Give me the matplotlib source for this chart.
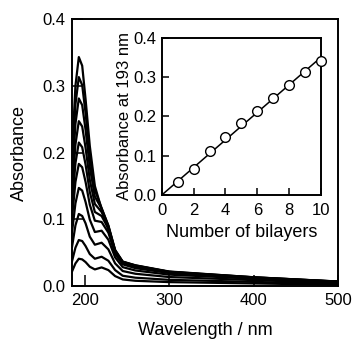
import numpy as np
import matplotlib
matplotlib.use("Agg")
import matplotlib.pyplot as plt

plt.rcParams['font.family'] = ['Liberation Sans', 'DejaVu Sans']

# Wavelengths (nm) for the spectra
wavelength = [185, 189, 193, 197, 201, 206, 212, 220, 228, 236, 245, 260, 300, 400, 500]

# Absorbance spectra for 1..10 bilayers
spec_1 = [0.022, 0.034, 0.041, 0.040, 0.036, 0.029, 0.025, 0.028, 0.024, 0.015, 0.010, 0.008, 0.006, 0.004, 0.002]
spec_2 = [0.0375, 0.0576, 0.069, 0.0675, 0.060, 0.048, 0.041, 0.044, 0.038, 0.024, 0.0155, 0.0126, 0.0094, 0.0063, 0.0032]
spec_3 = [0.059, 0.091, 0.108, 0.105, 0.094, 0.074, 0.062, 0.065, 0.055, 0.034, 0.0226, 0.0185, 0.0136, 0.009, 0.0046]
spec_4 = [0.081, 0.124, 0.147, 0.143, 0.126, 0.0995, 0.081, 0.083, 0.0695, 0.043, 0.0284, 0.0234, 0.0172, 0.0112, 0.0057]
spec_5 = [0.102, 0.156, 0.183, 0.178, 0.156, 0.122, 0.098, 0.096, 0.080, 0.049, 0.0326, 0.0269, 0.0196, 0.0126, 0.0064]
spec_6 = [0.121, 0.184, 0.215, 0.208, 0.182, 0.141, 0.111, 0.105, 0.086, 0.052, 0.0348, 0.029, 0.0209, 0.0131, 0.0069]
spec_7 = [0.140, 0.212, 0.247, 0.239, 0.207, 0.159, 0.123, 0.111, 0.089, 0.054, 0.0363, 0.0304, 0.0215, 0.0133, 0.0069]
spec_8 = [0.160, 0.243, 0.281, 0.271, 0.234, 0.178, 0.134, 0.116, 0.091, 0.054, 0.0368, 0.0312, 0.0219, 0.0132, 0.0067]
spec_9 = [0.180, 0.272, 0.313, 0.301, 0.259, 0.194, 0.144, 0.117, 0.090, 0.052, 0.0363, 0.031, 0.0213, 0.0122, 0.0066]
spec_10 = [0.200, 0.300, 0.343, 0.330, 0.280, 0.210, 0.150, 0.115, 0.085, 0.048, 0.034, 0.030, 0.020, 0.011, 0.006]
spectra = [spec_1, spec_2, spec_3, spec_4, spec_5, spec_6, spec_7, spec_8, spec_9, spec_10]

# Inset: absorbance at 193 nm vs number of bilayers
bilayers = [1, 2, 3, 4, 5, 6, 7, 8, 9, 10]
abs193 = [0.034, 0.065, 0.113, 0.147, 0.183, 0.215, 0.247, 0.281, 0.313, 0.341]

fig = plt.figure(figsize=(3.55, 3.39), dpi=100)
ax = fig.add_axes([0.203, 0.156, 0.749, 0.788])
for s in spectra:
    ax.plot(wavelength, s, color='black', lw=1.6)
ax.set_xlim(185, 500)
ax.set_ylim(0, 0.4)
ax.set_xticks([200, 300, 400, 500])
ax.set_yticks([0.0, 0.1, 0.2, 0.3, 0.4])
ax.set_yticklabels(['0.0', '0.1', '0.2', '0.3', '0.4'])
ax.tick_params(direction='in', length=8, width=1.1, labelsize=12, pad=5)
for sp in ax.spines.values():
    sp.set_linewidth(1.4)
ax.set_xlabel('Wavelength / nm', fontsize=13, labelpad=10)
ax.set_ylabel('Absorbance', fontsize=13, labelpad=10)

ins = fig.add_axes([0.456, 0.425, 0.448, 0.463])
x = np.array(bilayers, dtype=float)
y = np.array(abs193)
slope = np.sum(x * y) / np.sum(x * x)
xf = np.array([0, 10])
ins.plot(xf, slope * xf, color='black', lw=1.1, zorder=2)
ins.plot(bilayers, abs193, 'o', mfc='white', mec='black', mew=1.0, ms=7, zorder=3, clip_on=False)
ins.set_xlim(0, 10)
ins.set_ylim(0, 0.4)
ins.set_xticks([0, 2, 4, 6, 8, 10])
ins.set_yticks([0.0, 0.1, 0.2, 0.3, 0.4])
ins.set_yticklabels(['0.0', '0.1', '0.2', '0.3', '0.4'])
ins.tick_params(direction='in', length=5, width=1.1, labelsize=12, pad=4)
ins.tick_params(axis='x', pad=6)
for sp in ins.spines.values():
    sp.set_linewidth(1.4)
ins.set_xlabel('Number of bilayers', fontsize=13, labelpad=4)
ins.set_ylabel('Absorbance at 193 nm', fontsize=12, labelpad=1)

fig.savefig('out.png', dpi=100)
